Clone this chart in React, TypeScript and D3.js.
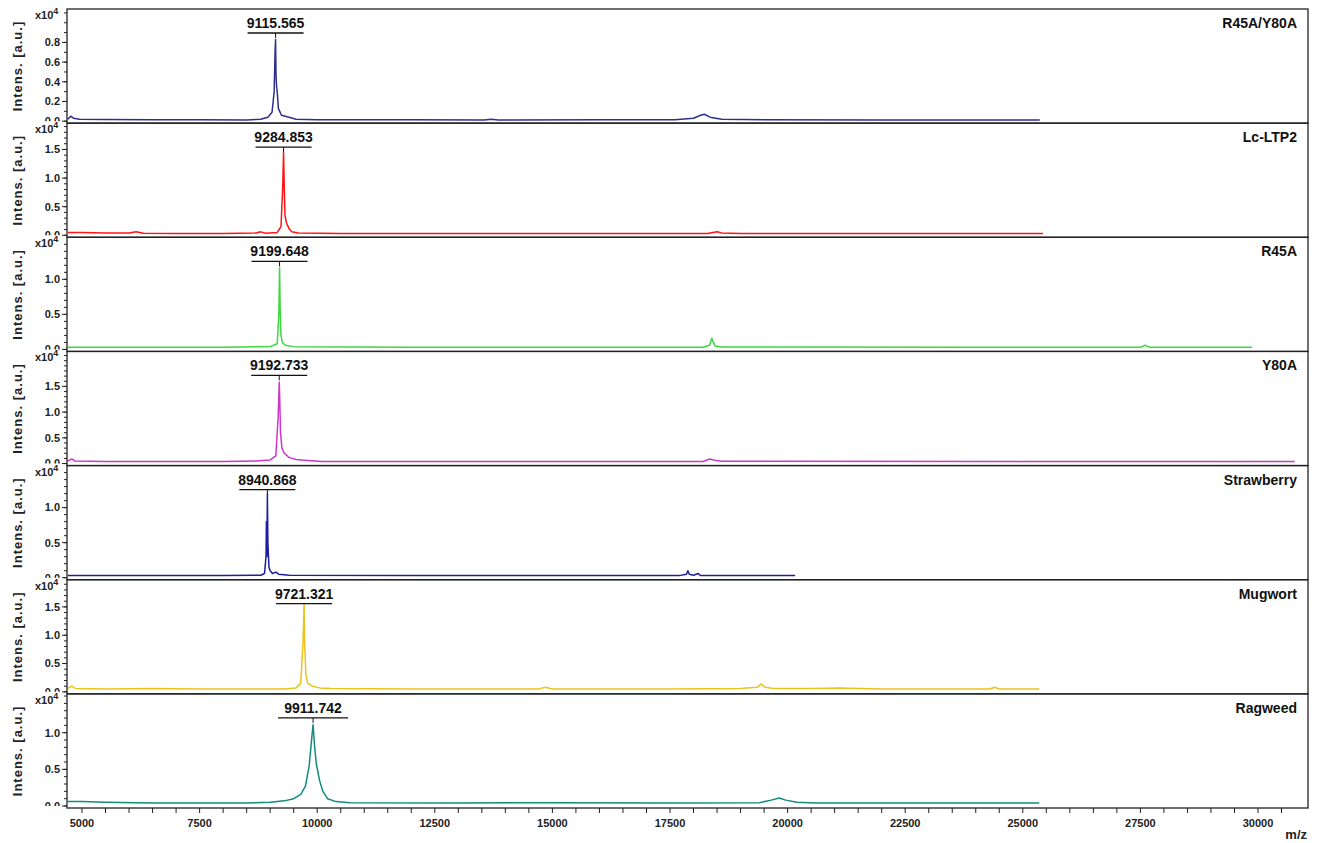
import React, { useEffect, useRef } from "react";
import * as d3 from "d3";

// sample names, peak annotations and per-panel y range (x10^4)
const names = ["R45A/Y80A", "Lc-LTP2", "R45A", "Y80A", "Strawberry", "Mugwort", "Ragweed"];
const peakLabels = ["9115.565", "9284.853", "9199.648", "9192.733", "8940.868", "9721.321", "9911.742"];
const peakMz = [9115.565, 9284.853, 9199.648, 9192.733, 8940.868, 9721.321, 9911.742];
const peakHeights = [0.83, 1.45, 1.17, 1.58, 1.19, 1.56, 1.11];
const yMax = [1.14, 1.96, 1.6, 2.18, 1.6, 1.98, 1.53];
const yTickLabels = [
  [0, 0.2, 0.4, 0.6, 0.8],
  [0, 0.5, 1.0, 1.5],
  [0, 0.5, 1.0],
  [0, 0.5, 1.0, 1.5],
  [0, 0.5, 1.0],
  [0, 0.5, 1.0, 1.5],
  [0, 0.5, 1.0],
];
const xTickLabels = [5000, 7500, 10000, 12500, 15000, 17500, 20000, 22500, 25000, 27500, 30000];

// spectra: [m/z, intensity x10^4]
const r45aY80a: [number, number][] = [
  [4700, 0.02], [4760, 0.05], [4820, 0.03], [4950, 0.02], [5500, 0.016], [6500, 0.015], [7500, 0.013],
  [8500, 0.012], [8800, 0.02], [8950, 0.04], [9040, 0.09], [9085, 0.3], [9105, 0.72], [9115, 0.83],
  [9124, 0.48], [9135, 0.36], [9150, 0.3], [9175, 0.13], [9240, 0.06], [9400, 0.04], [9550, 0.02],
  [10000, 0.015], [12000, 0.013], [13550, 0.012], [13700, 0.02], [13850, 0.012], [16000, 0.013],
  [17600, 0.013], [18000, 0.03], [18150, 0.06], [18230, 0.07], [18350, 0.04], [18600, 0.02],
  [19500, 0.013], [22000, 0.012], [25360, 0.012],
];
const lcLtp2: [number, number][] = [
  [4700, 0.05], [5000, 0.05], [5500, 0.04], [6000, 0.04], [6150, 0.06], [6300, 0.035], [7000, 0.03],
  [8000, 0.03], [8700, 0.04], [8800, 0.06], [8900, 0.035], [9150, 0.05], [9230, 0.15], [9265, 0.8],
  [9285, 1.45], [9298, 0.9], [9315, 0.35], [9345, 0.22], [9400, 0.12], [9460, 0.06], [9600, 0.04],
  [10500, 0.03], [14000, 0.03], [18300, 0.03], [18500, 0.06], [18600, 0.04], [19000, 0.03], [25430, 0.03],
];
const r45a: [number, number][] = [
  [4700, 0.03], [6000, 0.03], [8000, 0.03], [9000, 0.04], [9150, 0.08], [9185, 0.5], [9200, 1.17],
  [9212, 0.6], [9230, 0.2], [9260, 0.1], [9320, 0.06], [9500, 0.04], [12000, 0.03], [18200, 0.03],
  [18340, 0.06], [18390, 0.16], [18420, 0.1], [18460, 0.05], [18600, 0.035], [24000, 0.03],
  [27500, 0.03], [27600, 0.06], [27700, 0.03], [29870, 0.03],
];
const y80a: [number, number][] = [
  [4700, 0.05], [4780, 0.09], [4850, 0.05], [5500, 0.04], [8000, 0.04], [8700, 0.05], [9000, 0.07],
  [9120, 0.15], [9170, 0.9], [9193, 1.58], [9205, 1.2], [9220, 0.6], [9250, 0.3], [9300, 0.2],
  [9400, 0.12], [9550, 0.08], [9800, 0.06], [10100, 0.04], [15000, 0.04], [18200, 0.04],
  [18350, 0.09], [18420, 0.07], [18600, 0.045], [25000, 0.04], [30780, 0.04],
];
const strawberry: [number, number][] = [
  [4700, 0.03], [6000, 0.03], [8000, 0.03], [8800, 0.035], [8880, 0.06], [8912, 0.3], [8920, 0.8],
  [8930, 0.3], [8941, 1.19], [8952, 0.5], [8975, 0.15], [9000, 0.1], [9050, 0.06], [9120, 0.08],
  [9180, 0.05], [9400, 0.035], [12000, 0.03], [17700, 0.03], [17850, 0.05], [17880, 0.1],
  [17910, 0.05], [18000, 0.035], [18100, 0.06], [18150, 0.03], [20160, 0.03],
];
const mugwort: [number, number][] = [
  [4700, 0.06], [4780, 0.1], [4860, 0.06], [5500, 0.05], [6500, 0.06], [7500, 0.05], [8500, 0.05],
  [9300, 0.05], [9550, 0.07], [9650, 0.15], [9700, 0.9], [9721, 1.56], [9735, 0.8], [9760, 0.3],
  [9800, 0.15], [9900, 0.1], [10050, 0.07], [10300, 0.06], [12000, 0.05], [14700, 0.05],
  [14850, 0.08], [15000, 0.05], [17500, 0.05], [19000, 0.06], [19350, 0.08], [19440, 0.14],
  [19520, 0.08], [19700, 0.06], [20500, 0.06], [21100, 0.07], [22000, 0.05], [24300, 0.05],
  [24400, 0.08], [24500, 0.05], [25350, 0.05],
];
const ragweed: [number, number][] = [
  [4700, 0.06], [5000, 0.06], [5500, 0.05], [6500, 0.04], [8500, 0.04], [9000, 0.05], [9300, 0.07],
  [9500, 0.1], [9650, 0.16], [9750, 0.27], [9830, 0.55], [9880, 0.9], [9912, 1.11], [9940, 0.85],
  [9980, 0.58], [10050, 0.35], [10120, 0.2], [10220, 0.1], [10400, 0.06], [10700, 0.045],
  [13000, 0.04], [15000, 0.045], [17500, 0.04], [19400, 0.045], [19650, 0.08], [19820, 0.11],
  [19960, 0.08], [20200, 0.05], [20600, 0.04], [23000, 0.04], [25350, 0.04],
];
const spectra = [r45aY80a, lcLtp2, r45a, y80a, strawberry, mugwort, ragweed];

const colors = ["#2c3090", "#ff1414", "#3cd83c", "#cc38cc", "#1e1ea0", "#e8c41e", "#128a7c"];

const W = 1323;
const H = 843;
const font = "'Liberation Sans', Arial, sans-serif";

export default function App() {
  const svgRef = useRef<SVGSVGElement | null>(null);

  useEffect(() => {
    const svg = d3.select(svgRef.current);
    svg.selectAll("*").remove();

    const left = 67;
    const right = 1308;
    const top0 = 9;
    const bottom0 = 808;

    const x = d3.scaleLinear().domain([5000, 30000]).range([82, 1258]);
    const band = d3.scaleBand<number>().domain(d3.range(names.length)).range([top0, bottom0]);
    const ph = band.bandwidth();

    svg.append("rect").attr("width", W).attr("height", H).attr("fill", "#fff");
    const defs = svg.append("defs");

    names.forEach((name, i) => {
      const top = band(i) as number;
      const bottom = top + ph;
      const y = d3.scaleLinear().domain([0, yMax[i]]).range([bottom - 2, top]);

      defs.append("clipPath").attr("id", `plot${i}`)
        .append("rect").attr("x", left).attr("y", top).attr("width", right - left).attr("height", ph);
      // tick labels are cut at the zero line, as in the original export
      defs.append("clipPath").attr("id", `lab${i}`)
        .append("rect").attr("x", 0).attr("y", top - 12).attr("width", left).attr("height", y(0) - top + 12);

      const g = svg.append("g");

      // spectrum
      const line = d3.line<[number, number]>().x(d => x(d[0])).y(d => y(d[1]));
      g.append("path")
        .datum(spectra[i])
        .attr("clip-path", `url(#plot${i})`)
        .attr("d", line)
        .attr("fill", "none")
        .attr("stroke", colors[i])
        .attr("stroke-width", 1.5)
        .attr("stroke-linejoin", "round");

      // frame
      g.append("rect")
        .attr("x", left).attr("y", top).attr("width", right - left).attr("height", ph)
        .attr("fill", "none").attr("stroke", "#222").attr("stroke-width", 1.3);

      // y ticks
      const minor = d3.range(0, yMax[i], 0.1);
      g.append("g").selectAll("line").data(minor).join("line")
        .attr("x1", left - 3).attr("x2", left)
        .attr("y1", d => y(d)).attr("y2", d => y(d))
        .attr("stroke", "#222");
      g.append("g").selectAll("line").data(yTickLabels[i]).join("line")
        .attr("x1", left - 5).attr("x2", left)
        .attr("y1", d => y(d)).attr("y2", d => y(d))
        .attr("stroke", "#222");
      g.append("g").attr("clip-path", `url(#lab${i})`)
        .selectAll("text").data(yTickLabels[i]).join("text")
        .attr("x", 60).attr("y", d => y(d)).attr("dy", "0.35em")
        .attr("text-anchor", "end")
        .attr("font-family", font).attr("font-weight", "bold").attr("font-size", 11)
        .attr("fill", "#222")
        .text(d => d3.format(".1f")(d));

      // x10^4
      const ex = g.append("text")
        .attr("x", 35).attr("y", top + 10)
        .attr("font-family", font).attr("font-weight", "bold").attr("font-size", 11)
        .attr("fill", "#222");
      ex.append("tspan").text("x10");
      ex.append("tspan").attr("dy", -5).attr("font-size", 9).text("4");

      // axis title
      g.append("text")
        .attr("transform", `translate(22,${top + ph / 2}) rotate(-90)`)
        .attr("text-anchor", "middle")
        .attr("font-family", font).attr("font-weight", "bold").attr("font-size", 13)
        .attr("letter-spacing", 1)
        .attr("fill", "#222")
        .text("Intens. [a.u.]");

      // sample name
      g.append("text")
        .attr("x", 1297).attr("y", top + 19)
        .attr("text-anchor", "end")
        .attr("font-family", font).attr("font-weight", "bold").attr("font-size", 14)
        .attr("fill", "#111")
        .text(name);

      // peak annotation
      const px = x(peakMz[i]);
      const half = i === 6 ? 35 : 28;
      g.append("text")
        .attr("x", px).attr("y", top + 19)
        .attr("text-anchor", "middle")
        .attr("font-family", font).attr("font-weight", "bold").attr("font-size", 14)
        .attr("fill", "#111")
        .text(peakLabels[i]);
      g.append("line")
        .attr("x1", px - half).attr("x2", px + half)
        .attr("y1", top + 24).attr("y2", top + 24)
        .attr("stroke", "#111").attr("stroke-width", 1.3);
      g.append("line")
        .attr("x1", px).attr("x2", px)
        .attr("y1", top + 24).attr("y2", Math.min(top + 29, y(peakHeights[i])))
        .attr("stroke", "#111").attr("stroke-width", 1);
    });

    // x axis
    const xMinor = d3.range(5000, 31000, 500);
    svg.append("g").selectAll("line").data(xMinor).join("line")
      .attr("x1", d => x(d)).attr("x2", d => x(d))
      .attr("y1", bottom0).attr("y2", bottom0 + 5)
      .attr("stroke", "#222");
    svg.append("g").selectAll("text").data(xTickLabels).join("text")
      .attr("x", d => x(d)).attr("y", bottom0 + 19)
      .attr("text-anchor", "middle")
      .attr("font-family", font).attr("font-weight", "bold").attr("font-size", 11)
      .attr("fill", "#222")
      .text(d => String(d));
    svg.append("text")
      .attr("x", 1307).attr("y", 839)
      .attr("text-anchor", "end")
      .attr("font-family", font).attr("font-weight", "bold").attr("font-size", 13)
      .attr("fill", "#222")
      .text("m/z");
  }, []);

  return (
    <div style={{ position: "absolute", left: 0, top: 0 }}>
      <svg ref={svgRef} width={W} height={H} style={{ display: "block" }} />
    </div>
  );
}
